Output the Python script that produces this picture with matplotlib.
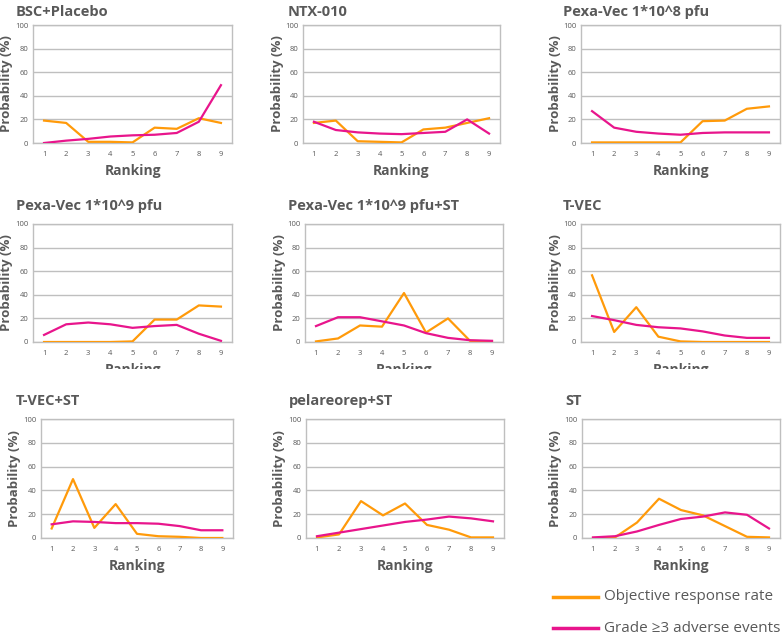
import matplotlib
matplotlib.use("Agg")
import matplotlib.pyplot as plt
from matplotlib.lines import Line2D
from matplotlib.transforms import Bbox, TransformedBbox

plt.rcParams['font.family'] = ['Open Sans', 'DejaVu Sans']

rankings = [1, 2, 3, 4, 5, 6, 7, 8, 9]
titles = ["BSC+Placebo", "NTX-010", "Pexa-Vec 1*10^8 pfu",
          "Pexa-Vec 1*10^9 pfu", "Pexa-Vec 1*10^9 pfu+ST", "T-VEC",
          "T-VEC+ST", "pelareorep+ST", "ST"]

orr_bsc = [19, 17, 1, 1, 0.5, 13, 12, 21, 17]
ae_bsc = [0, 2, 3.5, 5.5, 6.5, 7, 8.5, 18, 49]
orr_ntx = [17, 19, 1.5, 1, 0.5, 11.5, 13, 17, 21]
ae_ntx = [18, 11, 9, 8, 7.5, 8.5, 9.5, 20, 8]
orr_pv8 = [0.5, 0.5, 0.5, 0.5, 0.5, 18.5, 19, 29, 31]
ae_pv8 = [27, 13, 9.5, 8, 7, 8.5, 9, 9, 9]
orr_pv9 = [0, 0, 0, 0, 0.5, 19, 19, 31, 30]
ae_pv9 = [6, 15, 16.5, 15, 12, 13.5, 14.5, 7, 1]
orr_pv9st = [0.5, 3, 14, 13, 41.5, 8, 20, 1, 0.5]
ae_pv9st = [13.5, 21, 21, 17.5, 14, 7.5, 3.5, 1.5, 1]
orr_tvec = [56.5, 8.5, 29.5, 4.5, 0.5, 0, 0, 0, 0]
ae_tvec = [22, 18.5, 14.5, 12.5, 11.5, 9, 5.5, 3.5, 3.5]
orr_tvecst = [8, 49.5, 8.5, 28.5, 3.5, 1.5, 1, 0, 0]
ae_tvecst = [11.5, 14, 13.5, 12.5, 12.5, 12, 10, 6.5, 6.5]
orr_pel = [0.5, 3, 31, 19, 29, 11, 7, 0.5, 0.5]
ae_pel = [1.5, 4.5, 7.5, 10.5, 13.5, 15.5, 18, 16.5, 14]
orr_st = [0, 0.5, 13, 33, 23.5, 19, 10, 1, 0.5]
ae_st = [0.5, 1.5, 5.5, 11, 16, 18, 21.5, 19.5, 8]

orr_all = [orr_bsc, orr_ntx, orr_pv8, orr_pv9, orr_pv9st, orr_tvec,
           orr_tvecst, orr_pel, orr_st]
ae_all = [ae_bsc, ae_ntx, ae_pv8, ae_pv9, ae_pv9st, ae_tvec,
          ae_tvecst, ae_pel, ae_st]

yticks = [0, 20, 40, 60, 80, 100]
legend_labels = ["Objective response rate", "Grade \u22653 adverse events"]

ORANGE = "#FF9A0A"
MAGENTA = "#E8158C"
GRAY = "#595959"
GRID = "#BFBFBF"

W, H = 783, 635
fig = plt.figure(figsize=(W / 100, H / 100), dpi=100)

# pixel boxes (left, right, top, bottom)
boxes = [
    (33, 232, 25, 143), (303, 500, 25, 143), (581, 780, 25, 143),
    (33, 232, 224, 342), (305, 503, 224, 342), (581, 780, 224, 342),
    (41, 233, 419, 538), (306, 504, 419, 538), (582, 780, 419, 538),
]
title_x = [16, 288, 563, 16, 288, 563, 16, 289, 565]
title_y = [12, 12, 12, 206, 206, 206, 401, 401, 401]

for i, (l, r, t, b) in enumerate(boxes):
    ax = fig.add_axes([l / W, 1 - b / H, (r - l) / W, (b - t) / H])
    ax.plot(rankings, orr_all[i], color=ORANGE, lw=1.6, zorder=3)
    ax.plot(rankings, ae_all[i], color=MAGENTA, lw=1.6, zorder=4)
    ax.set_xlim(0.5, 9.5)
    ax.set_ylim(0, 100)
    ax.set_yticks(yticks)
    ax.set_xticks(rankings)
    ax.tick_params(axis='both', length=0, labelsize=5.5, labelcolor=GRAY)
    ax.tick_params(axis='x', pad=6)
    ax.tick_params(axis='y', pad=3.5)
    ax.yaxis.grid(True, color=GRID, lw=1.0)
    ax.set_axisbelow(True)
    for s in ax.spines.values():
        s.set_color(GRID)
        s.set_linewidth(1.0)
    ax.set_ylabel("Probability (%)", fontsize=9.5, fontweight='bold',
                  color=GRAY, labelpad=1)
    xl = ax.set_xlabel("Ranking", fontsize=10, fontweight='bold',
                       color=GRAY, labelpad=4)
    if 3 <= i <= 5:
        xl.set_clip_box(TransformedBbox(Bbox([[0, 1 - 369 / H], [1, 1]]),
                                        fig.transFigure))
        xl.set_clip_on(True)
    fig.text(title_x[i] / W, 1 - title_y[i] / H, titles[i], fontsize=10.5,
             fontweight='bold', color=GRAY, ha='left', va='center')

# legend
for j, (col, lab) in enumerate(zip([ORANGE, MAGENTA], legend_labels)):
    y = 1 - (597 + 31 * j) / H
    fig.add_artist(Line2D([553 / W, 598 / W], [y, y], color=col, lw=2.5,
                          transform=fig.transFigure))
    fig.text(604 / W, y, lab, fontsize=11, color=GRAY, ha='left', va='center')

fig.savefig("out.png", dpi=100)
